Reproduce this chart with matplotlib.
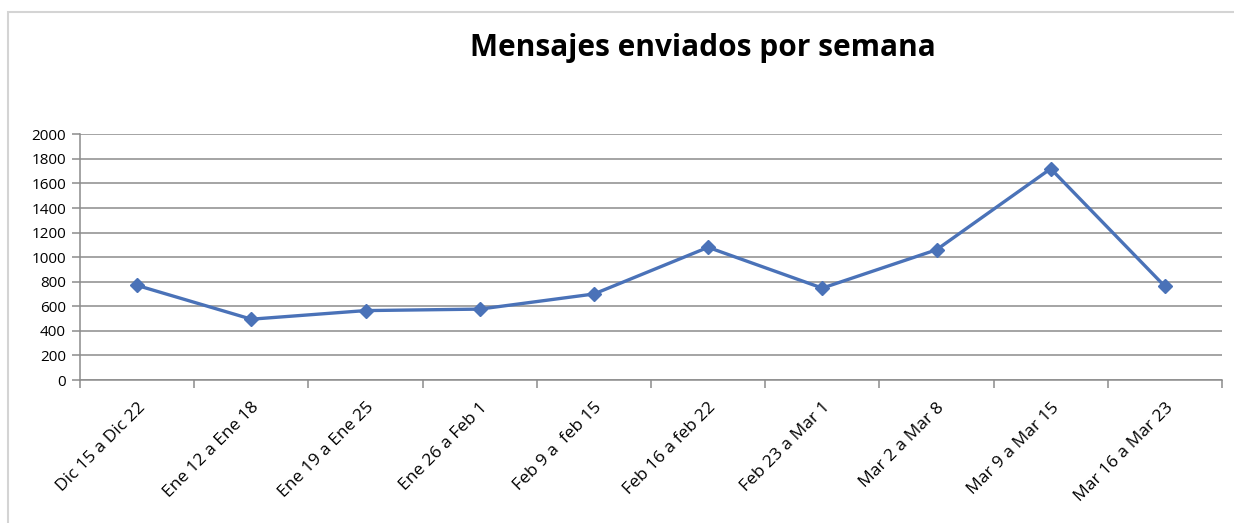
import numpy as np
import matplotlib.pyplot as plt
import matplotlib.transforms as mtransforms
from matplotlib.patches import Rectangle

# Data
weeks = ["Dic 15 a Dic 22", "Ene 12 a Ene 18", "Ene 19 a Ene 25", "Ene 26 a Feb 1",
         "Feb 9 a  feb 15", "Feb 16 a feb 22", "Feb 23 a Mar 1", "Mar 2 a Mar 8",
         "Mar 9 a Mar 15", "Mar 16 a Mar 23"]
messages = [770, 495, 565, 577, 700, 1080, 748, 1060, 1720, 762]
y_ticks = list(range(0, 2001, 200))

W, H = 1234, 523
fig = plt.figure(figsize=(W / 100, H / 100), dpi=100)
fig.patch.set_facecolor("white")

# frame of the chart area (screenshot border)
fig.add_artist(Rectangle((8 / W, -0.05), 1.2, (523 - 12) / H + 0.05,
                         transform=fig.transFigure, fill=False,
                         edgecolor="#d4d4d4", linewidth=1.5))

ax = fig.add_axes([80 / W, 1 - 380 / H, (1222 - 80) / W, (380 - 134.3) / H])

x = np.arange(len(weeks))
ax.plot(x, messages, color="#4a72b8", linewidth=2.4,
        marker="D", markersize=7, markerfacecolor="#4a72b8",
        markeredgecolor="#4a72b8")

ax.set_xlim(-0.5, len(weeks) - 0.5)
ax.set_ylim(0, 2000)
ax.set_yticks(y_ticks)
ax.set_yticklabels([str(v) for v in y_ticks], fontsize=11, family="Open Sans")
ax.grid(axis="y", color="#8c8c8c", linewidth=1.1)
ax.set_axisbelow(True)

ax.set_xticks(x)
ax.set_xticklabels(weeks, rotation=45, ha="right", rotation_mode="anchor",
                   fontsize=12.5, family="Open Sans")
shift = mtransforms.ScaledTranslation(-19 / 100, -2 / 100, fig.dpi_scale_trans)
for lbl in ax.get_xticklabels():
    lbl.set_transform(lbl.get_transform() + shift)
ax.set_xticks(np.arange(-0.5, len(weeks)), minor=True)
ax.tick_params(axis="x", which="major", length=0, pad=14)
ax.tick_params(axis="x", which="minor", length=6, color="#8c8c8c", width=1.1)
ax.tick_params(axis="y", length=6, color="#8c8c8c", width=1.1, pad=4)

for side in ["top", "right"]:
    ax.spines[side].set_visible(False)
for side in ["left", "bottom"]:
    ax.spines[side].set_color("#8c8c8c")
    ax.spines[side].set_linewidth(1.1)

fig.text(703 / W, 1 - 48 / H, "Mensajes enviados por semana",
         ha="center", va="center", fontsize=21.5, fontweight="bold",
         family="Open Sans")

fig.savefig("out.png", dpi=100)
